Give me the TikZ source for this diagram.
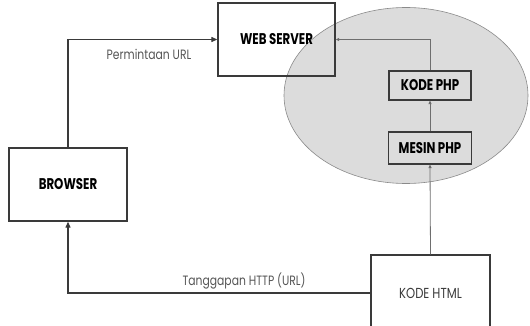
\documentclass[tikz,border=0pt]{standalone}
\usepackage{fontspec}
\setmainfont{Poppins}
\newfontfamily\condbold[FakeStretch=0.76]{Poppins}
\newfontfamily\condreg[FakeStretch=0.8]{Poppins}
\usetikzlibrary{arrows.meta}
\definecolor{ellfill}{HTML}{DCDCDC}
\definecolor{ellline}{HTML}{8A8A8A}
\definecolor{boxline}{HTML}{3A3A3A}
\definecolor{labgray}{HTML}{555555}
\tikzset{
  box/.style={draw=boxline, line width=1.3pt, minimum width=#1, inner sep=0pt},
  bigbox/.style={box=#1, minimum height=73pt, font=\condbold\bfseries\fontsize{15.5}{17}\selectfont},
  phpbox/.style={box=#1, line width=1.1pt, font=\condbold\bfseries\fontsize{15.5}{17}\selectfont},
  mainline/.style={draw=boxline, line width=1.1pt},
  thinline/.style={draw=ellline!80!black, line width=0.8pt},
  lab/.style={text=labgray, font=\condreg\fontsize{13.5}{15}\selectfont}
}
\begin{document}
\begin{tikzpicture}[x=1pt,y=-1pt]
\useasboundingbox (0,0) rectangle (530,326);
\begin{scope}
\clip (0,0) rectangle (530,326);
\filldraw[fill=ellfill, draw=ellline, line width=0.6pt] (406,95.5) ellipse [x radius=122, y radius=88];
\node[bigbox=117pt] (web) at (276.5,39.5) {WEB SERVER};
\node[bigbox=118pt] (browser) at (68,184.5) {BROWSER};
\node[phpbox=82pt, minimum height=29pt] (kphp) at (430,85.5) {KODE PHP};
\node[phpbox=83pt, minimum height=32pt] (mphp) at (430,148) {MESIN PHP};
\node[box=119pt, minimum height=76pt, font=\condreg\fontsize{14.5}{16}\selectfont, text=boxline] (html) at (430.5,293) {KODE HTML};
\draw[mainline, -{Triangle[length=6pt,width=5pt]}] (browser.north) |- (web.west);
\draw[thinline, -{Triangle[length=3.5pt,width=3pt]}] (kphp.north) |- (web.east);
\draw[thinline, -{Triangle[length=3.5pt,width=3pt]}] (mphp.north) -- (kphp.south);
\draw[thinline, -{Triangle[length=3.5pt,width=3pt]}] (html.north) -- (mphp.south);
\draw[mainline, -{Triangle[length=6pt,width=5pt]}] (html.west) -| (browser.south);
\node[lab] (l1) at (149,54) {Permintaan URL};
\node[lab] (l2) at (244,281) {Tanggapan HTTP (URL)};
\end{scope}
\end{tikzpicture}
\end{document}
